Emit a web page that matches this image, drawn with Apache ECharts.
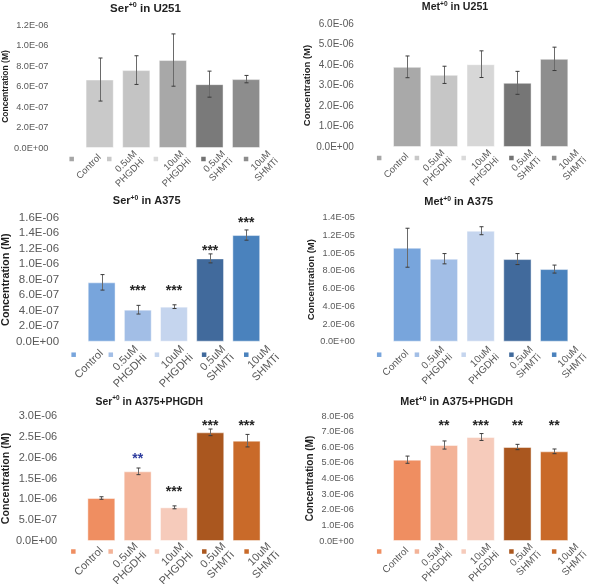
<!DOCTYPE html>
<html><head><meta charset="utf-8">
<script src="https://cdn.jsdelivr.net/npm/echarts@6/dist/echarts.min.js"></script>
<style>html,body{margin:0;padding:0;background:#fff}#c{width:600px;height:584px}</style>
</head><body><div id="c"></div>
<script>
// ---------------- data (values in units of 1e-6 M) ----------------
const categories = ['Control', '0.5uM\nPHGDHi', '10uM\nPHGDHi', '0.5uM\nSHMTi', '10uM\nSHMTi'];

const serU251 = [0.668, 0.760, 0.858, 0.623, 0.672];
const serU251Err = [0.21, 0.14, 0.255, 0.127, 0.036];

const metU251 = [3.91, 3.52, 4.04, 3.13, 4.30];
const metU251Err = [0.53, 0.42, 0.65, 0.56, 0.57];

const serA375 = [0.766, 0.413, 0.452, 1.075, 1.376];
const serA375Err = [0.10, 0.056, 0.024, 0.058, 0.066];
const serA375Sig = ['', '***', '***', '***', '***'];
const serA375SigAt = [null, 0.71, 0.71, 1.226, 1.583];

const metA375 = [10.61, 9.37, 12.53, 9.33, 8.20];
const metA375Err = [2.2, 0.58, 0.45, 0.62, 0.45];

const serPHGDH = [1.032, 1.672, 0.808, 2.608, 2.408];
const serPHGDHErr = [0.03, 0.08, 0.035, 0.08, 0.15];
const serPHGDHSig = ['', '**', '***', '***', '***'];
const serPHGDHSigAt = [null, 2.064, 1.28, 2.848, 2.848];

const metPHGDH = [5.205, 6.144, 6.656, 6.016, 5.739];
const metPHGDHErr = [0.23, 0.26, 0.22, 0.17, 0.15];
const metPHGDHSig = ['', '**', '***', '**', '**'];
const metPHGDHSigAt = [null, 7.59, 7.59, 7.59, 7.59];

// y-axis ticks (units of 1e-6 M): [max, step]
const serU251Ticks = [1.2, 0.2];
const metU251Ticks = [6, 1];
const serA375Ticks = [1.6, 0.2];
const metA375Ticks = [14, 2];
const serPHGDHTicks = [3, 0.5];
const metPHGDHTicks = [8, 1];

// ---------------- styles / layout ----------------
const FONT = '"Liberation Sans", Arial, sans-serif';
const GRAY_LEG = ['#A6A6A6', '#C8C8C8', '#DADADA', '#737373', '#8C8C8C'];
const GRAY_BAR1 = ['#C9C9C9', '#C4C4C4', '#A8A8A8', '#7A7A7A', '#8D8D8D'];
const GRAY_BAR2 = ['#A9A9A9', '#C6C6C6', '#D7D7D7', '#767676', '#8E8E8E'];
const BLUE = ['#78A5DC', '#A2BEE6', '#C5D5EE', '#416A9C', '#4A82BD'];
const ORANGE = ['#EF8E61', '#F3B398', '#F6CBBB', '#AA571F', '#C96A29'];
// legend entry offsets (px) relative to each category centre
const SQ_DX = [-28, -27, -17, -6, 0];
const TX_DX = [0, 3, 13, 18, 27];

const panels = [
  {met: 'Ser', cell: 'U251', vals: serU251, errs: serU251Err, ticks: serU251Ticks,
   bar: GRAY_BAR1, leg: GRAY_LEG,
   grid: {left: 80.6, top: 25, width: 183.75, height: 123},
   tickFs: 9.2, xFs: 9.5, nameFs: 8.5, nameGap: 70, lblMargin: 33, tx: 145.5, ty: 9, tFs: 11.5, sqDy: 11, txDy: 8},
  {met: 'Met', cell: 'U251', vals: metU251, errs: metU251Err, ticks: metU251Ticks,
   bar: GRAY_BAR2, leg: GRAY_LEG,
   grid: {left: 388.8, top: 24, width: 183.75, height: 123},
   tickFs: 10, xFs: 9.5, nameFs: 9.5, nameGap: 69, lblMargin: 35, tx: 455, ty: 7.5, tFs: 10.6, sqDy: 11, txDy: 8},
  {met: 'Ser', cell: 'A375', vals: serA375, errs: serA375Err, ticks: serA375Ticks,
   sig: serA375Sig, sigAt: serA375SigAt,
   bar: BLUE, leg: BLUE,
   grid: {left: 80.6, top: 217.7, width: 183.75, height: 124},
   tickFs: 11.5, xFs: 11, nameFs: 10.8, nameGap: 70, lblMargin: 24.5, tx: 146.7, ty: 201.7, tFs: 11, sqDy: 13, txDy: 10},
  {met: 'Met', cell: 'A375', vals: metA375, errs: metA375Err, ticks: metA375Ticks,
   bar: BLUE, leg: BLUE,
   grid: {left: 388.8, top: 217.7, width: 183.75, height: 124},
   tickFs: 9.2, xFs: 10, nameFs: 9.5, nameGap: 71, lblMargin: 34, tx: 458.7, ty: 202.3, tFs: 11, sqDy: 13, txDy: 10},
  {met: 'Ser', cell: 'A375+PHGDH', vals: serPHGDH, errs: serPHGDHErr, ticks: serPHGDHTicks,
   sig: serPHGDHSig, sigAt: serPHGDHSigAt, sigBlue: 1,
   bar: ORANGE, leg: ORANGE,
   grid: {left: 81, top: 416, width: 183.75, height: 125},
   tickFs: 11, xFs: 11, nameFs: 10.7, nameGap: 70.6, lblMargin: 26, tx: 149.3, ty: 402.3, tFs: 10.4, sqDy: 10.5, txDy: 8},
  {met: 'Met', cell: 'A375+PHGDH', vals: metPHGDH, errs: metPHGDHErr, ticks: metPHGDHTicks,
   sig: metPHGDHSig, sigAt: metPHGDHSigAt,
   bar: ORANGE, leg: ORANGE,
   grid: {left: 388.8, top: 416, width: 183.75, height: 125},
   tickFs: 9.2, xFs: 10, nameFs: 10, nameGap: 70.8, lblMargin: 35, tx: 456.7, ty: 402.3, tFs: 10.8, sqDy: 10.5, txDy: 8}
];

function fmtE(v) {
  const s = (v * 1e-6).toExponential(1).toUpperCase();
  const m = s.split('E');
  const sign = m[1][0] === '-' ? '-' : '+';
  const d = m[1].replace(/[+-]/, '');
  return m[0] + 'E' + sign + (d.length < 2 ? '0' + d : d);
}

const option = {
  backgroundColor: '#fff',
  animation: false,
  title: [], grid: [], xAxis: [], yAxis: [], series: []
};

panels.forEach((p, k) => {
  option.title.push({
    text: p.met + '{s|+0} in ' + p.cell,
    left: p.tx, top: p.ty - p.tFs * 0.65, textAlign: 'center', padding: 0,
    textStyle: {
      fontFamily: FONT, fontSize: p.tFs, fontWeight: 'bold', color: '#1F1F1F', lineHeight: p.tFs * 1.2,
      rich: {s: {fontFamily: FONT, fontSize: p.tFs * 0.62, fontWeight: 'bold', color: '#1F1F1F',
                 verticalAlign: 'top', lineHeight: p.tFs * 0.8}}
    }
  });
  option.grid.push(Object.assign({containLabel: false}, p.grid));
  option.xAxis.push({
    type: 'category', gridIndex: k, data: categories,
    axisLine: {show: false}, axisTick: {show: false}, axisLabel: {show: false}
  });
  option.yAxis.push({
    type: 'value', gridIndex: k, min: 0, max: p.ticks[0], interval: p.ticks[1],
    splitLine: {show: false}, axisLine: {show: false}, axisTick: {show: false},
    axisLabel: {formatter: fmtE, fontFamily: FONT, fontSize: p.tickFs, color: '#595959', margin: p.lblMargin},
    name: 'Concentration (M)', nameLocation: 'middle', nameGap: p.nameGap, nameRotate: 90,
    nameTextStyle: {fontFamily: FONT, fontSize: p.nameFs, fontWeight: 'bold', color: '#1F1F1F'}
  });
  option.series.push({
    type: 'bar', xAxisIndex: k, yAxisIndex: k, barCategoryGap: '23%',
    data: p.vals.map((v, i) => ({value: v, itemStyle: {color: p.bar[i],
      borderColor: 'rgba(255,255,255,0.45)', borderWidth: 1}}))
  });
  // error bars
  option.series.push({
    type: 'custom', xAxisIndex: k, yAxisIndex: k, z: 5,
    data: p.vals.map((v, i) => [i, v, p.errs[i]]),
    renderItem: (params, api) => {
      const x = api.value(0), v = api.value(1), e = api.value(2);
      const hi = api.coord([x, v + e]), lo = api.coord([x, v - e]);
      const cx = Math.round(hi[0]) + 0.5;
      const stem = {stroke: '#6A6A6A', lineWidth: 1};
      const cap = {stroke: '#3A3A3A', lineWidth: 1};
      const w = 2;
      return {type: 'group', children: [
        {type: 'line', shape: {x1: cx, y1: hi[1], x2: cx, y2: lo[1]}, style: stem},
        {type: 'line', shape: {x1: cx - w, y1: hi[1], x2: cx + w, y2: hi[1]}, style: cap},
        {type: 'line', shape: {x1: cx - w, y1: lo[1], x2: cx + w, y2: lo[1]}, style: cap}
      ]};
    }
  });
  // legend-style category labels: colour square + rotated text
  option.series.push({
    type: 'custom', xAxisIndex: k, yAxisIndex: k, z: 4, clip: false, silent: true,
    data: categories.map((c, i) => [i, 0]),
    renderItem: (params, api) => {
      const i = api.value(0);
      const pt = api.coord([i, 0]);
      const s = 4.5;
      return {type: 'group', children: [
        {type: 'rect', shape: {x: pt[0] + SQ_DX[i] - s / 2, y: pt[1] + p.sqDy - s / 2, width: s, height: s},
         style: {fill: p.leg[i]}},
        {type: 'text', x: pt[0] + TX_DX[i], y: pt[1] + p.txDy, rotation: Math.PI / 4,
         style: {text: categories[i], align: 'right', verticalAlign: 'middle', fill: '#595959',
                 font: p.xFs + 'px ' + FONT, lineHeight: p.xFs * 1.1}}
      ]};
    }
  });
  if (p.sig) {
    const idx = [];
    p.sig.forEach((s, i) => { if (s) idx.push(i); });
    option.series.push({
      type: 'custom', xAxisIndex: k, yAxisIndex: k, z: 6,
      data: idx.map(i => [i, p.sigAt[i]]),
      renderItem: (params, api) => {
        const i = api.value(0);
        const pt = api.coord([i, api.value(1)]);
        return {type: 'text', style: {
          text: p.sig[i], x: pt[0], y: pt[1] + 4, align: 'center', verticalAlign: 'middle',
          fill: (p.sigBlue === i) ? '#2E3C9E' : '#262626',
          font: 'bold 14px ' + FONT
        }};
      }
    });
  }
});

const chart = echarts.init(document.getElementById('c'), null, {renderer: 'canvas'});
chart.setOption(option);
</script>
</body></html>
